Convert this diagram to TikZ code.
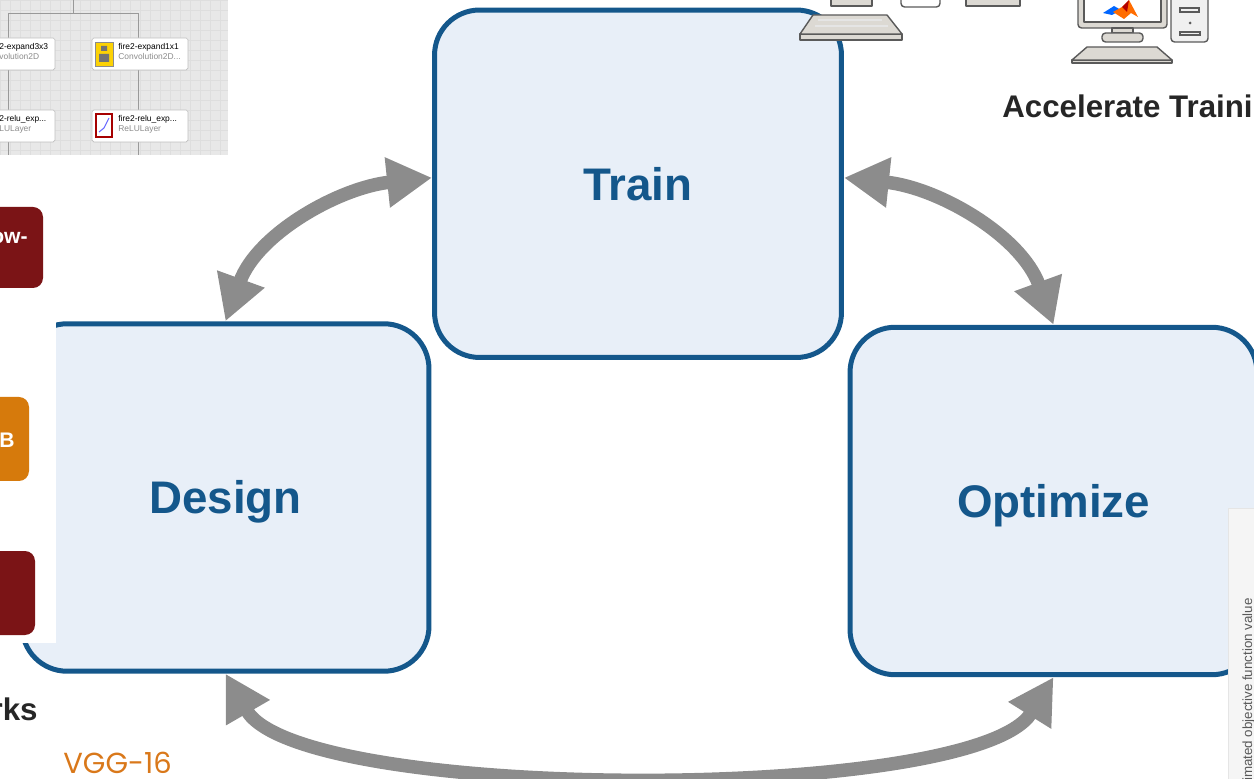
\documentclass[tikz,border=0pt]{standalone}
\usepackage{fontspec}
\setmainfont{Liberation Sans}
\newfontfamily\gothic{Poppins}
\usetikzlibrary{arrows.meta}

\definecolor{boxblue}{HTML}{14578B}
\definecolor{boxfill}{HTML}{E8EFF8}
\definecolor{arrowgray}{HTML}{8C8C8C}
\definecolor{darkred}{HTML}{7B1416}
\definecolor{amber}{HTML}{D67A0C}
\definecolor{vggorange}{HTML}{D9781A}
\definecolor{ink}{HTML}{262626}
\definecolor{pcgray}{HTML}{DCD9D3}
\definecolor{pcline}{HTML}{5A5A5A}

\tikzset{
  stage/.style={draw=boxblue, fill=boxfill, line width=0.1cm, rounded corners=0.9cm,
    minimum width=8.14cm, minimum height=6.95cm, inner sep=0, text=boxblue,
    font=\fontsize{26}{30}\selectfont\bfseries, text height=18.6pt, text depth=0pt},
  cyc/.style={draw=arrowgray, line width=0.27cm,
    {Triangle[length=0.9cm,width=0.95cm]}-{Triangle[length=0.9cm,width=0.95cm]}},
  tab/.style={fill=#1, rounded corners=0.2cm},
  tabtext/.style={text=white, inner sep=0, font=\fontsize{12}{14}\selectfont\bfseries},
  pc/.style={draw=pcline, fill=pcgray, line width=0.8pt, line join=round},
  lay/.style={draw=black!25, fill=white, rounded corners=1pt, line width=0.4pt},
  laytext/.style={inner sep=0, anchor=base west, font=\fontsize{4.8}{5}\selectfont},
  wire/.style={draw=black!40, line width=0.5pt}
}

\begin{document}
\begin{tikzpicture}[x=0.02cm, y=0.02cm]
  \useasboundingbox (0,0) rectangle (1254,778);
  \clip (0,0) rectangle (1254,778);

  % layer graph snapshot
  \fill[black!9] (0,623) rectangle (228,778);
  \foreach \g in {0,10,...,220}
    \draw[black!13, line width=0.3pt] (\g,623) -- (\g,778);
  \foreach \g in {628,638,...,778}
    \draw[black!13, line width=0.3pt] (0,\g) -- (228,\g);
  \draw[wire] (73,778) -- (73,765) (8,740) -- (8,765) -- (138,765) -- (138,740);
  \draw[wire] (8,708) -- (8,668) (138,708) -- (138,668);
  \draw[wire] (8,636) -- (8,623) (138,636) -- (138,623);
  \draw[lay] (-5,708) rectangle (55,740);
  \draw[lay] (92,708) rectangle (188,740);
  \draw[lay] (-5,636) rectangle (55,668);
  \draw[lay] (92,636) rectangle (188,668);
  \draw[fill=yellow!70!orange, draw=black!45] (95,712) rectangle (113,736);
  \fill[black!55] (99,716) rectangle (109,724) (101,727) rectangle (107,732);
  \draw[fill=white, draw=red!65!black, line width=1.2pt] (96,641) rectangle (112,664);
  \draw[blue!60, line width=0.6pt] (99,646) -- (104,650) -- (109,660);
  \node[laytext] (l1) at (-1,728) {2-expand3x3};
  \node[laytext, text=black!45] (l2) at (-1,718) {volution2D};
  \node[laytext] (r1) at (118,728) {fire2-expand1x1};
  \node[laytext, text=black!45] (r2) at (118,718) {Convolution2D...};
  \node[laytext] (l3) at (-1,656) {2-relu\_exp...};
  \node[laytext, text=black!45] (l4) at (-1,646) {LULayer};
  \node[laytext] (r3) at (118,656) {fire2-relu\_exp...};
  \node[laytext, text=black!45] (r4) at (118,646) {ReLULayer};

  % the three stages
  \node[stage] (train) at (638,594.25) {Train};
  \node[stage] (design) at (225.5,280.5) {Design};
  \node[stage] (optimize) at (1053.5,277) {Optimize};

  % left column of tabs
  \fill[white] (-2,135) rectangle (56,623);
  \fill[tab=darkred] (-20,490) rectangle (43,571);
  \node[tabtext, anchor=base east] (tab1) at (28,534) {ow-};
  \fill[tab=amber] (-20,297) rectangle (29,381);
  \node[tabtext, anchor=base east] (tab2) at (15,330) {B};
  \fill[tab=darkred] (-20,143) rectangle (35,227);

  % cycle arrows
  \draw[cyc] (design.north) to[out=70, in=186, looseness=0.95] ([yshift=0.12cm]train.west);
  \draw[cyc] ([yshift=0.12cm]train.east) to[out=-6, in=110, looseness=0.95] (optimize.north);
  \draw[cyc] (design.south) to[out=-60, in=-122, looseness=0.46] (optimize.south);

  % plot corner
  \filldraw[fill=black!4, draw=black!10] (1228,-5) rectangle (1262,270);
  \node[rotate=90, anchor=base east, inner sep=0, text=black!65,
    font=\fontsize{7.6}{9}\selectfont] (ylab) at (1252,180) {Estimated objective function value};

  % laptop
  \draw[pc] (831,772) rectangle (872,795);
  \draw[pc, fill=white, rounded corners=2pt] (901,771) rectangle (940,795);
  \draw[pc] (966,772) rectangle (1020,795);
  \draw[pc] (800,738) rectangle (902,744);
  \draw[pc] (813,763) -- (887,763) -- (902,744) -- (800,744) -- cycle;
  \draw[black!10, line width=1pt] (818,758) -- (882,758) (815,752) -- (888,752);

  % desktop
  \draw[pc, rounded corners=2pt] (1078,750) rectangle (1167,795);
  \draw[pc, fill=white] (1084,756) rectangle (1161,795);
  \fill[blue!60!cyan] (1103,765) -- (1114,772) -- (1121,768) -- (1112,763) -- cycle;
  \fill[orange!85!red] (1113,766) -- (1122,771) -- (1129,778) -- (1138,761) -- (1131,765) -- (1124,759) -- cycle;
  \fill[red!70!black] (1122,771) -- (1129,778) -- (1127,766) -- cycle;
  \draw[pc] (1112,745) rectangle (1133,750);
  \draw[pc, rounded corners=2pt] (1102,736) rectangle (1143,745);
  \draw[pc, fill=black!6, rounded corners=2pt] (1171,736) rectangle (1208,795);
  \draw[pcline, line width=0.6pt] (1180,766) rectangle (1199,770);
  \fill[pcline] (1190,755) circle (1.5);
  \draw[pcline, line width=0.6pt] (1180,743) rectangle (1200,746);
  \draw[pc] (1072,715) rectangle (1172,718);
  \draw[pc] (1087,731) -- (1157,731) -- (1172,718) -- (1072,718) -- cycle;

  % loose captions
  \node[anchor=base west, inner sep=0, text=ink, font=\fontsize{17.8}{20}\selectfont\bfseries]
    (accel) at (1002,660) {Accelerate Training};
  \node[anchor=base east, inner sep=0, text=ink, font=\fontsize{17.8}{20}\selectfont\bfseries]
    (nets) at (38,58) {rks};
  \node[anchor=base west, inner sep=0, text=vggorange, font=\fontsize{16.5}{19}\selectfont\gothic]
    (vgg) at (63,5) {VGG-16};
\end{tikzpicture}
\end{document}
